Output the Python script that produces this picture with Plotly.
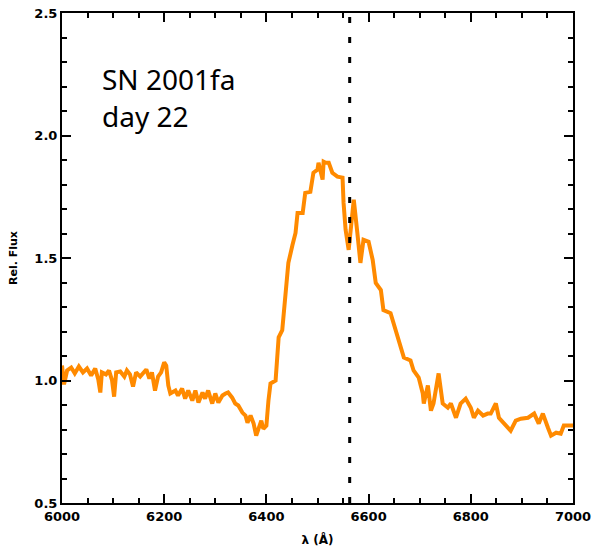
import plotly.graph_objects as go

wavelength = [
    6000, 6004, 6010, 6018, 6025, 6033, 6041, 6049, 6057, 6065, 6071, 6075, 6078,
    6086, 6092, 6098, 6102, 6106, 6114, 6122, 6127, 6133, 6139, 6145, 6153, 6159,
    6165, 6171, 6176, 6182, 6188, 6194, 6200, 6204, 6208,
    6212, 6222, 6227, 6235, 6241, 6247, 6255, 6261, 6267, 6275, 6280, 6286, 6294,
    6300, 6306, 6314, 6320, 6325, 6333, 6339, 6345, 6353, 6359, 6363, 6369, 6375,
    6380, 6384, 6390, 6394, 6400, 6404, 6408,
    6418, 6424, 6431, 6441, 6443, 6451, 6457, 6461, 6471, 6476, 6486, 6492, 6500,
    6502, 6510, 6512, 6516, 6522, 6529, 6539, 6549, 6551, 6555, 6561, 6569, 6571,
    6578, 6584, 6590, 6600, 6608, 6614, 6624, 6629, 6643, 6653, 6663, 6669, 6682,
    6688, 6698, 6706, 6708, 6716, 6722, 6727, 6737, 6745, 6755, 6761, 6771, 6780,
    6790, 6800, 6806, 6814, 6824, 6833, 6839, 6849, 6855, 6865, 6878, 6888, 6898,
    6912, 6924, 6933, 6941, 6951, 6957, 6967, 6976, 6982, 6992, 7000,
]
flux = [
    1.061, 0.984, 1.041, 1.053, 1.029, 1.057, 1.033, 1.049, 1.020, 1.049, 1.004, 0.951, 1.033,
    1.025, 1.041, 1.000, 0.934, 1.033, 1.037, 1.016, 1.041, 1.025, 0.975, 1.033, 1.016, 1.033,
    1.045, 1.008, 1.033, 0.959, 1.016, 1.033, 1.074, 1.061, 0.980,
    0.947, 0.959, 0.939, 0.967, 0.926, 0.959, 0.918, 0.959, 0.910, 0.951, 0.926, 0.959, 0.906,
    0.947, 0.910, 0.939, 0.947, 0.951, 0.930, 0.906, 0.898, 0.869, 0.857, 0.828, 0.857, 0.824,
    0.775, 0.803, 0.836, 0.803, 0.816, 0.918, 0.988,
    1.000, 1.176, 1.205, 1.422, 1.480, 1.553, 1.602, 1.684, 1.684, 1.766, 1.770, 1.848, 1.861,
    1.889, 1.820, 1.893, 1.889, 1.889, 1.848, 1.832, 1.828, 1.725, 1.615, 1.533, 1.725, 1.738,
    1.602, 1.480, 1.574, 1.566, 1.492, 1.398, 1.369, 1.287, 1.275, 1.205, 1.123, 1.094, 1.082,
    1.041, 1.012, 0.947, 0.906, 0.980, 0.877, 0.906, 1.029, 0.906, 0.889, 0.906, 0.848, 0.906,
    0.926, 0.889, 0.848, 0.877, 0.857, 0.865, 0.865, 0.906, 0.848, 0.824, 0.795, 0.836, 0.844,
    0.848, 0.865, 0.824, 0.865, 0.807, 0.775, 0.787, 0.783, 0.816, 0.816, 0.816,
]
halpha = 6563
label_lines = ["SN 2001fa", "day 22"]
x_title = "λ (Å)"
y_title = "Rel. Flux"
x_range = [6000, 7000]
y_range = [0.5, 2.5]

fig = go.Figure()
fig.add_trace(go.Scatter(x=wavelength, y=flux, mode="lines",
                         line=dict(color="#ff8a00", width=4), showlegend=False))

tickfont = dict(family="DejaVu Sans", size=13, color="black", weight="bold")
fig.update_layout(
    xaxis=dict(range=x_range, ticks="inside", ticklen=9, tickwidth=2, tickcolor="black",
               showline=True, linecolor="black", linewidth=2, mirror="ticks", automargin=False,
               showgrid=False, zeroline=False, dtick=200, tickfont=tickfont,
               minor=dict(ticks="inside", ticklen=5, tickwidth=2, tickcolor="black", dtick=50),
               title=dict(text="<b>" + x_title + "</b>",
                          font=dict(family="DejaVu Sans", size=12, color="black"))),
    yaxis=dict(range=y_range, ticks="inside", ticklen=9, tickwidth=2, tickcolor="black",
               showline=True, linecolor="black", linewidth=2, mirror="ticks", automargin=False,
               showgrid=False, zeroline=False, dtick=0.5, tickformat=".1f", tickfont=tickfont,
               minor=dict(ticks="inside", ticklen=5, tickwidth=2, tickcolor="black", dtick=0.1),
               title=dict(text="<b>" + y_title + "</b>",
                          font=dict(family="DejaVu Sans", size=11, color="black"))),
    width=593, height=547, margin=dict(l=62, r=20, t=13, b=44),
    plot_bgcolor="white", paper_bgcolor="white")

fig.add_shape(type="line", x0=halpha, x1=halpha, xref="x", y0=0, y1=1, yref="paper",
              line=dict(color="black", width=3, dash="6px,14px"))

for txt, yp in zip(label_lines, [0.866, 0.790]):
    fig.add_annotation(text=txt, xref="paper", yref="paper", x=0.075, y=yp,
                       xanchor="left", yanchor="middle", showarrow=False,
                       font=dict(family="Noto Sans", size=28, color="black"))

fig.write_html("out.html")
